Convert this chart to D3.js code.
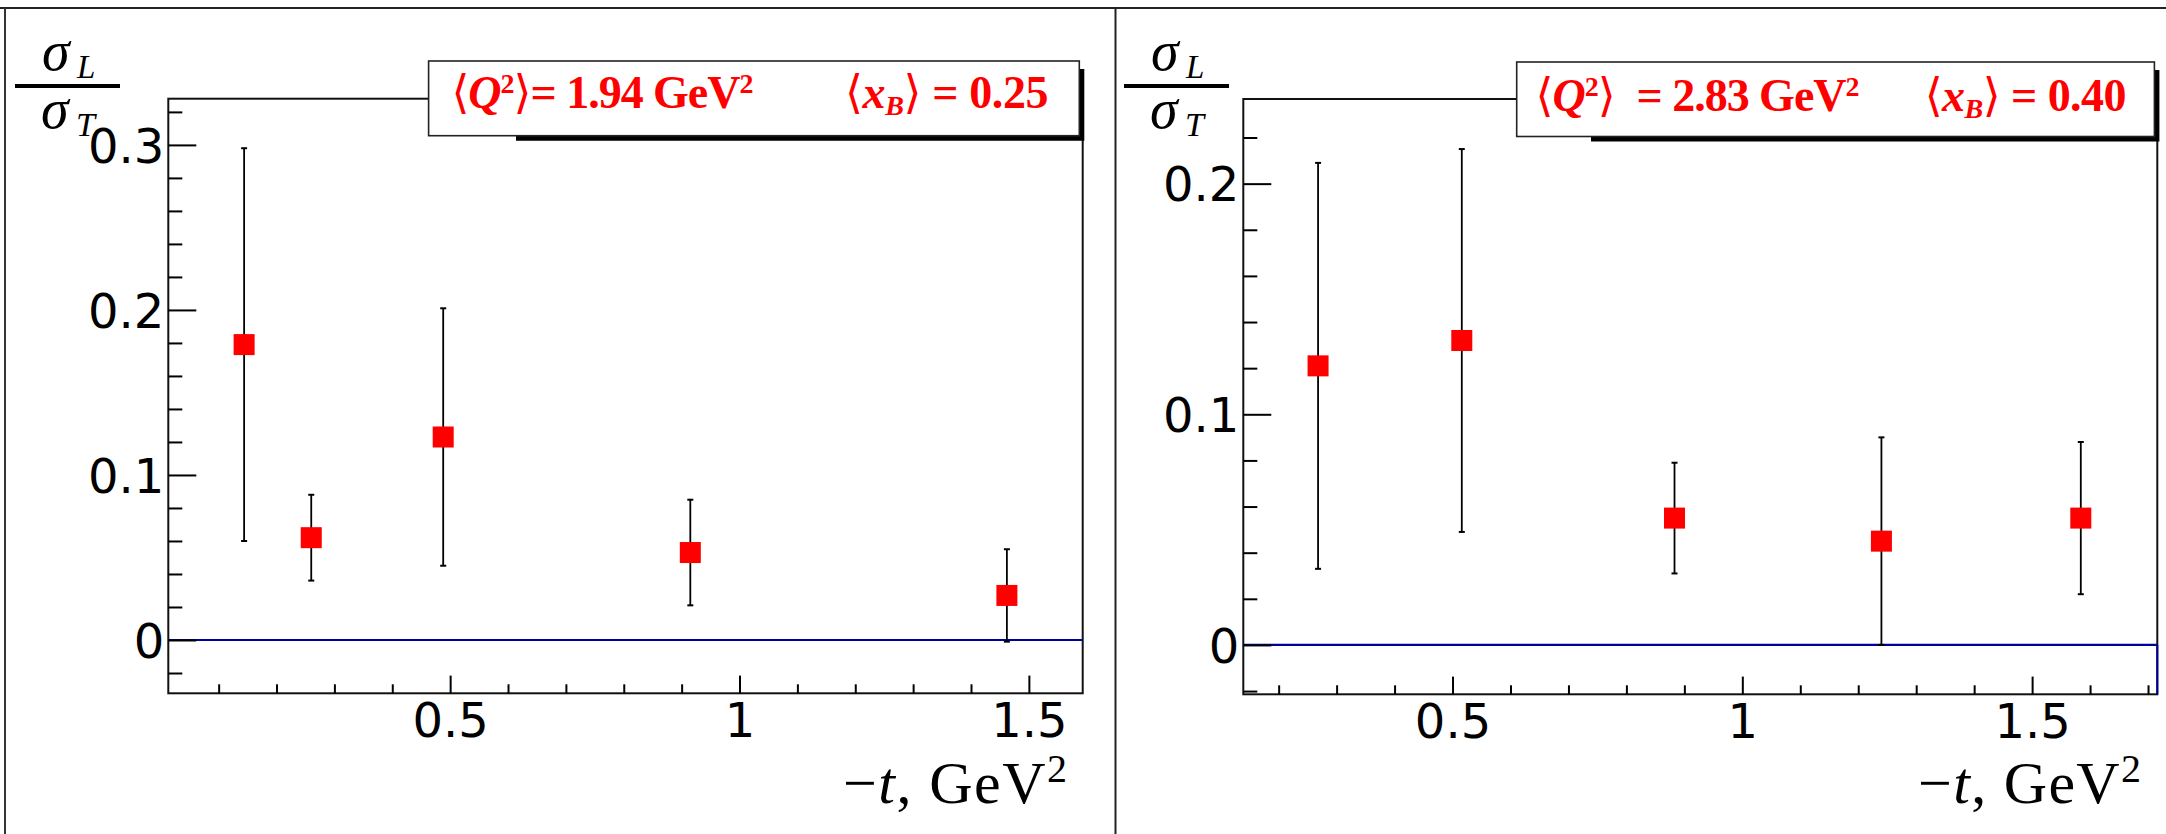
<!DOCTYPE html>
<html>
<head>
<meta charset="utf-8">
<script src="https://cdn.jsdelivr.net/npm/d3@7"></script>
<style>
  html, body { margin: 0; padding: 0; background: #fff; }
  svg { display: block; }
</style>
</head>
<body>
<svg id="chart" width="2166" height="834"></svg>
<script>
// sigma_L / sigma_T versus -t for two (Q^2, x_B) bins
const tBin1 = [0.144, 0.260, 0.488, 0.915, 1.462];
const ratioBin1 = [0.179, 0.062, 0.123, 0.053, 0.027];
const errBin1 = [0.119, 0.026, 0.078, 0.032, 0.028];

const tBin2 = [0.268, 0.516, 0.883, 1.240, 1.584];
const ratioBin2 = [0.121, 0.132, 0.055, 0.045, 0.055];
const errBin2 = [0.088, 0.083, 0.024, 0.045, 0.033];

const q2Values = ["1.94", "2.83"];
const xbValues = ["0.25", "0.40"];

const xMajorTicks = [0.5, 1, 1.5];
const xTickLabels = ["0.5", "1", "1.5"];
const yMajorBin1 = [0, 0.1, 0.2, 0.3];
const yLabelsBin1 = ["0", "0.1", "0.2", "0.3"];
const yMajorBin2 = [0, 0.1, 0.2];
const yLabelsBin2 = ["0", "0.1", "0.2"];

const panels = [
  {
    t: tBin1, r: ratioBin1, e: errBin1, q2: q2Values[0], xb: xbValues[0], q2Pad: "",
    yMajor: yMajorBin1, yLabels: yLabelsBin1,
    frame: { x0: 168.3, x1: 1082.7, y0: 98.7, y1: 693.3 },
    xDom: [0.013, 1.593], yDom: [-0.0323, 0.328],
    legend: { x0: 428.6, x1: 1079.3, y0: 61, y1: 135.7, shadowStart: 516,
              p1: [451.4, 753.5], p2: [845, 1048.5], base: 108 },
    frac: { bar: [15, 120], num: 42, sub: 77 },
    titleX: [843, 1067],
    blueEdge: false
  },
  {
    t: tBin2, r: ratioBin2, e: errBin2, q2: q2Values[1], xb: xbValues[1], q2Pad: "\u2002",
    yMajor: yMajorBin2, yLabels: yLabelsBin2,
    frame: { x0: 1243.3, x1: 2157.3, y0: 99, y1: 694.3 },
    xDom: [0.139, 1.716], yDom: [-0.0214, 0.2367],
    legend: { x0: 1516.7, x1: 2154.4, y0: 62, y1: 136.5, shadowStart: 1591,
              p1: [1535.5, 1859.5], p2: [1924.7, 2126.5], base: 111 },
    frac: { bar: [1124, 1229], num: 1151, sub: 1186 },
    titleX: [1918, 2141],
    blueEdge: true
  }
];

const svg = d3.select("#chart");
svg.append("rect").attr("width", 2166).attr("height", 834).attr("fill", "#fff");

// canvas pad borders
svg.append("line").attr("x1", 0).attr("x2", 2166).attr("y1", 8).attr("y2", 8)
  .attr("stroke", "#222").attr("stroke-width", 2);
svg.append("line").attr("x1", 5).attr("x2", 5).attr("y1", 8).attr("y2", 834)
  .attr("stroke", "#333").attr("stroke-width", 2);
svg.append("line").attr("x1", 1115.5).attr("x2", 1115.5).attr("y1", 8).attr("y2", 834)
  .attr("stroke", "#222").attr("stroke-width", 2);

const SERIF = "'Liberation Serif', 'Times New Roman', 'DejaVu Serif', serif";
const SANS = "'DejaVu Sans', sans-serif";

function styleTicks(sel) {
  sel.select(".domain").remove();
  sel.selectAll("line").attr("stroke", "#000").attr("stroke-width", 2);
}

function drawPanel(p) {
  const g = svg.append("g");
  const F = p.frame;
  const x = d3.scaleLinear().domain(p.xDom).range([F.x0, F.x1]);
  const y = d3.scaleLinear().domain(p.yDom).range([F.y1, F.y0]);

  // frame
  g.append("rect").attr("x", F.x0).attr("y", F.y0)
    .attr("width", F.x1 - F.x0).attr("height", F.y1 - F.y0)
    .attr("fill", "none").attr("stroke", "#111").attr("stroke-width", 2);

  // zero reference line
  g.append("line").attr("x1", F.x0).attr("x2", F.x1).attr("y1", y(0)).attr("y2", y(0))
    .attr("stroke", "#00009c").attr("stroke-width", 2.2);
  if (p.blueEdge) {
    g.append("line").attr("x1", F.x1).attr("x2", F.x1).attr("y1", y(0)).attr("y2", F.y1)
      .attr("stroke", "#00009c").attr("stroke-width", 2);
  }

  // y axis: minor then major ticks, pointing into the frame
  const yMinor = d3.range(-5, 20).map(i => i * 0.02)
    .filter(v => v > p.yDom[0] && v < p.yDom[1])
    .filter(v => !p.yMajor.some(m => Math.abs(m - v) < 1e-9));
  g.append("g").attr("transform", `translate(${F.x0},0)`)
    .call(d3.axisLeft(y).tickValues(yMinor).tickSize(-14).tickFormat(""))
    .call(styleTicks);
  const yAx = g.append("g").attr("transform", `translate(${F.x0},0)`)
    .call(d3.axisLeft(y).tickValues(p.yMajor).tickSize(-28).tickPadding(4)
      .tickFormat((d, i) => p.yLabels[i]))
    .call(styleTicks);
  yAx.selectAll("text").attr("font-family", SANS).attr("font-size", 48)
    .attr("fill", "#000").attr("dy", "0.36em");

  // x axis
  const xMinor = d3.range(1, 18).map(i => i / 10)
    .filter(v => v > p.xDom[0] && v < p.xDom[1])
    .filter(v => !xMajorTicks.some(m => Math.abs(m - v) < 1e-9));
  g.append("g").attr("transform", `translate(0,${F.y1})`)
    .call(d3.axisBottom(x).tickValues(xMinor).tickSize(-9).tickFormat(""))
    .call(styleTicks);
  const xAx = g.append("g").attr("transform", `translate(0,${F.y1})`)
    .call(d3.axisBottom(x).tickValues(xMajorTicks).tickSize(-17.7).tickPadding(9.5)
      .tickFormat((d, i) => xTickLabels[i]))
    .call(styleTicks);
  xAx.selectAll("text").attr("font-family", SANS).attr("font-size", 48).attr("fill", "#000");

  // error bars with end caps
  const pts = p.t.map((t, i) => ({ t, r: p.r[i], e: p.e[i] }));
  g.selectAll(".ebar").data(pts).join("line").attr("class", "ebar")
    .attr("x1", d => x(d.t)).attr("x2", d => x(d.t))
    .attr("y1", d => y(d.r + d.e)).attr("y2", d => y(d.r - d.e))
    .attr("stroke", "#000").attr("stroke-width", 1.8);
  const caps = pts.flatMap(d => [d.r + d.e, d.r - d.e].map(v => ({ t: d.t, v })));
  g.selectAll(".cap").data(caps).join("line").attr("class", "cap")
    .attr("x1", d => x(d.t) - 3).attr("x2", d => x(d.t) + 3)
    .attr("y1", d => y(d.v)).attr("y2", d => y(d.v))
    .attr("stroke", "#000").attr("stroke-width", 2);
  g.selectAll(".pt").data(pts).join("rect").attr("class", "pt")
    .attr("x", d => x(d.t) - 10.5).attr("y", d => y(d.r) - 10.5)
    .attr("width", 21).attr("height", 21).attr("fill", "#ff0000");

  // kinematics box with drop shadow
  const L = p.legend;
  g.append("path")
    .attr("d", `M${L.shadowStart},${L.y1} L${L.x1},${L.y1} L${L.x1},${L.y0 + 8} L${L.x1 + 5},${L.y0 + 8} L${L.x1 + 5},${L.y1 + 5} L${L.shadowStart},${L.y1 + 5} Z`)
    .attr("fill", "#000");
  g.append("rect").attr("x", L.x0).attr("y", L.y0)
    .attr("width", L.x1 - L.x0).attr("height", L.y1 - L.y0)
    .attr("fill", "#fff").attr("stroke", "#222").attr("stroke-width", 1.6);

  const t1 = g.append("text").attr("x", L.p1[0]).attr("y", L.base)
    .attr("font-family", SERIF).attr("font-weight", "bold").attr("font-size", 46)
    .attr("fill", "#ff0000")
    .attr("textLength", L.p1[1] - L.p1[0]).attr("lengthAdjust", "spacing");
  t1.append("tspan").attr("font-weight", "normal").attr("font-family", SANS).text("\u27E8");
  t1.append("tspan").attr("font-style", "italic").text("Q");
  t1.append("tspan").attr("font-size", 28).attr("dy", -15).text("2");
  t1.append("tspan").attr("dy", 15).attr("font-weight", "normal").attr("font-family", SANS).text("\u27E9");
  t1.append("tspan").text(p.q2Pad + "= " + p.q2 + " GeV");
  t1.append("tspan").attr("font-size", 28).attr("dy", -15).text("2");

  const t2 = g.append("text").attr("x", L.p2[0]).attr("y", L.base)
    .attr("font-family", SERIF).attr("font-weight", "bold").attr("font-size", 46)
    .attr("fill", "#ff0000")
    .attr("textLength", L.p2[1] - L.p2[0]).attr("lengthAdjust", "spacing");
  t2.append("tspan").attr("font-weight", "normal").attr("font-family", SANS).text("\u27E8");
  t2.append("tspan").attr("font-style", "italic").text("x");
  t2.append("tspan").attr("font-style", "italic").attr("font-size", 28).attr("dy", 7).text("B");
  t2.append("tspan").attr("dy", -7).attr("font-weight", "normal").attr("font-family", SANS).text("\u27E9");
  t2.append("tspan").text(" = " + p.xb);

  // x-axis title
  const xt = g.append("text").attr("x", p.titleX[0]).attr("y", 802.5)
    .attr("font-family", SERIF).attr("font-size", 60).attr("fill", "#000")
    .attr("textLength", p.titleX[1] - p.titleX[0]).attr("lengthAdjust", "spacing");
  xt.append("tspan").text("\u2212");
  xt.append("tspan").attr("font-style", "italic").text("t");
  xt.append("tspan").text(", GeV");
  xt.append("tspan").attr("font-size", 40).attr("dy", -21).text("2");

  // y-axis title: sigma_L over sigma_T
  const fr = p.frac;
  g.append("line").attr("x1", fr.bar[0]).attr("x2", fr.bar[1]).attr("y1", 86).attr("y2", 86)
    .attr("stroke", "#000").attr("stroke-width", 3.8);
  g.append("text").attr("x", fr.num).attr("y", 70).attr("font-family", SERIF)
    .attr("font-style", "italic").attr("font-size", 56).attr("fill", "#000").text("\u03C3");
  g.append("text").attr("x", fr.sub).attr("y", 78).attr("font-family", SERIF)
    .attr("font-style", "italic").attr("font-size", 33).attr("fill", "#000").text("L");
  g.append("text").attr("x", fr.num - 1).attr("y", 128).attr("font-family", SERIF)
    .attr("font-style", "italic").attr("font-size", 56).attr("fill", "#000").text("\u03C3");
  g.append("text").attr("x", fr.sub - 1).attr("y", 136).attr("font-family", SERIF)
    .attr("font-style", "italic").attr("font-size", 34).attr("fill", "#000").text("T");
}

panels.forEach(drawPanel);
</script>
</body>
</html>
